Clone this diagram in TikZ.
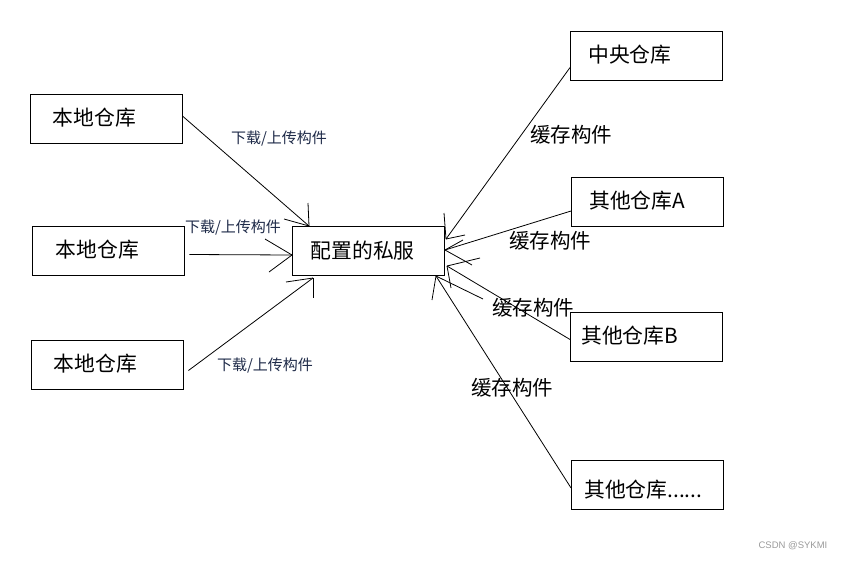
\documentclass[tikz,border=0pt]{standalone}
\usepackage{fontspec}
\setmainfont{Liberation Sans}
\newfontfamily\cjk{Noto Sans CJK SC}
\usetikzlibrary{calc}
\definecolor{lblcol}{HTML}{1E2A48}
\definecolor{wmcol}{HTML}{9A9A9A}
\tikzset{
  boxnode/.style={draw=black, line width=0.9pt, minimum width=152pt, minimum height=49pt, inner sep=0pt},
  boxtext/.style={anchor=west, inner sep=0pt, font=\cjk\fontsize{20.8}{24}\selectfont},
  smalllbl/.style={inner sep=0pt, text=lblcol, font=\cjk\fontsize{15}{17}\selectfont},
  biglbl/.style={inner sep=0pt, text=black, font=\cjk\fontsize{20.5}{24}\selectfont},
  conn/.style={draw=black, line width=0.8pt},
  headstroke/.style={draw=black, line width=0.8pt},
}
\begin{document}
\begin{tikzpicture}[x=1pt,y=-1pt]
\useasboundingbox (0,0) rectangle (843,560);
% boxes
\node[boxnode] (l1) at (106,119) {};
\node[boxnode] (l2) at (108,250.5) {};
\node[boxnode] (l3) at (107,364.5) {};
\node[boxnode] (srv) at (368,250.5) {};
\node[boxnode] (c) at (646.5,55.5) {};
\node[boxnode] (a) at (647.5,202) {};
\node[boxnode] (b) at (646.5,336.5) {};
\node[boxnode] (o) at (647.5,485) {};
% box texts
\node[boxtext] (l1t) at ($(l1.west)+(23,-1)$) {本地仓库};
\node[boxtext] (l2t) at ($(l2.west)+(24,-1)$) {本地仓库};
\node[boxtext] (l3t) at ($(l3.west)+(23,-1)$) {本地仓库};
\node[boxtext] (srvt) at ($(srv.west)+(19,0)$) {配置的私服};
\node[boxtext] (ct) at ($(c.west)+(18,-1)$) {中央仓库};
\node[boxtext] (at) at ($(a.west)+(18,-1)$) {其他仓库A};
\node[boxtext] (bt) at ($(b.west)+(11,-1)$) {其他仓库B};
\node[boxtext] (ot) at ($(o.west)+(13,5)$) {其他仓库......};
% arrow tips
\coordinate (t1) at (309,226);
\coordinate (t2) at (292,255);
\coordinate (t3) at (313,278);
\coordinate (t4) at (446,239);
\coordinate (t5) at (445,250);
\coordinate (t6) at (447,266);
\coordinate (t7) at (436,276);
% left connectors
\draw[conn] ($(l1.east)+(0,-3)$) -- (t1);
\draw[headstroke] (t1) -- ++(-1,-23);
\draw[headstroke] (t1) -- ++(-25,-7);
\draw[conn] ($(l2.east)+(5,4)$) -- (t2);
\draw[headstroke] (t2) -- ++(-27,-16);
\draw[headstroke] (t2) -- ++(-23,17);
\draw[conn] ($(l3.east)+(5,6)$) -- (t3);
\draw[headstroke] (t3) -- ++(-27,4);
\draw[headstroke] (t3) -- ++(0,20);
% right connectors
\draw[conn] ($(c.west)+(0,12)$) -- (t4);
\draw[headstroke] (t4) -- ++(-2,-26);
\draw[headstroke] (t4) -- ++(19,-4);
\draw[conn] ($(a.west)+(0,9)$) -- (t5);
\draw[headstroke] (t5) -- ++(18,-10);
\draw[headstroke] (t5) -- ++(27,15);
\draw[conn] ($(b.west)+(0,3)$) -- (t6);
\draw[headstroke] (t6) -- ++(33,-8);
\draw[headstroke] (t6) -- ++(4,22);
\draw[conn] ($(o.west)+(0,3)$) -- (t7);
\draw[headstroke] (t7) -- ++(-4,24);
\draw[headstroke] (t7) -- ++(47,23);
% labels
\node[smalllbl] (lab1) at (279,139) {下载/上传构件};
\node[smalllbl] (lab2) at (233,228) {下载/上传构件};
\node[smalllbl] (lab3) at (265,366) {下载/上传构件};
\node[biglbl] (lab4) at (571,135) {缓存构件};
\node[biglbl] (lab5) at (550,241) {缓存构件};
\node[biglbl] (lab6) at (533,308) {缓存构件};
\node[biglbl] (lab7) at (512,388) {缓存构件};
% watermark
\node[inner sep=0pt, text=wmcol, font=\fontsize{9.5}{11}\selectfont] (wm) at (793,546) {CSDN @SYKMI};
\end{tikzpicture}
\end{document}
